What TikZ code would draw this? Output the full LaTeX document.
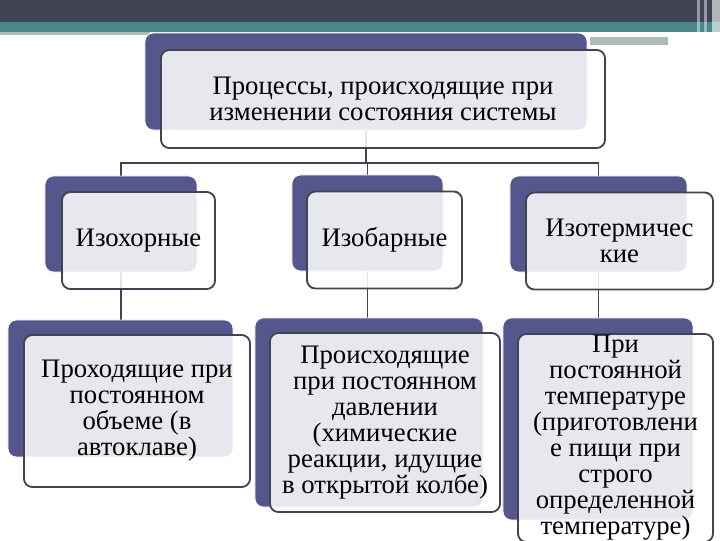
\documentclass[tikz,border=0pt]{standalone}
\usepackage{fontspec}
\setmainfont{Liberation Serif}
\usetikzlibrary{positioning,calc,backgrounds}
\definecolor{backcol}{RGB}{85,87,140}
\definecolor{edgecol}{RGB}{66,66,82}
\definecolor{barcol}{RGB}{64,68,84}
\definecolor{tealcol}{RGB}{74,136,140}
\definecolor{stripcol}{RGB}{172,188,186}

\begin{document}
\begin{tikzpicture}[x=0.025cm, y=-0.025cm, every node/.style={font=\fontsize{19}{18.5}\selectfont}, backbox/.style={draw=white, line width=0.6pt, fill=backcol, rounded corners=6pt, inner sep=0pt}, frontbox/.style={draw=edgecol, line width=1.3pt, preaction={fill=white, fill opacity=0.86}, rounded corners=6pt, align=center, inner sep=0pt}, link/.style={draw=edgecol, line width=1.3pt}]
    \clip (0,0) rectangle (720,540);
    % title bar
    \fill[barcol] (0,0) rectangle (720,22);
    \fill[tealcol] (0,22) rectangle (720,32);
    \fill[stripcol] (0,32) rectangle (150,35);
    \fill[stripcol] (590,37) rectangle (668,45);
    \fill[white, opacity=0.45] (697,0) rectangle (700,48);
    \fill[white, opacity=0.45] (704,0) rectangle (707,48);
    \fill[white, opacity=0.6] (712,0) rectangle (720,48);
    % top
    \node[backbox, minimum width=11.05cm, minimum height=2.425cm] (procbk) at (366,81.5) {};
    \node[frontbox, minimum width=11.1cm, minimum height=2.45cm] (proc) at (383,99) {Процессы, происходящие при\\изменении состояния системы};
    % second row
    \node[backbox, minimum width=3.8cm, minimum height=2.4cm] (volbk) at (121,224) {};
    \node[frontbox, minimum width=3.825cm, minimum height=2.425cm] (vol) at (138.5,240.5) {Изохорные};
    \node[backbox, minimum width=3.775cm, minimum height=2.4cm] (presbk) at (367.5,223) {};
    \node[frontbox, minimum width=3.875cm, minimum height=2.425cm] (pres) at (384.5,240) {Изобарные};
    \node[backbox, minimum width=4.425cm, minimum height=2.4cm] (tempbk) at (598.5,224) {};
    \node[frontbox, minimum width=4.675cm, minimum height=2.425cm] (temp) at (619.5,241) {Изотермичес\\кие};
    % third row
    \node[backbox, minimum width=5.625cm, minimum height=3.425cm] (voldefbk) at (120.5,388.5) {};
    \node[frontbox, minimum width=5.65cm, minimum height=3.8cm] (voldef) at (137,411) {Проходящие при\\постоянном\\объеме (в\\автоклаве)};
    \node[backbox, minimum width=5.7cm, minimum height=4.725cm] (presdefbk) at (369,412.5) {};
    \node[frontbox, minimum width=5.75cm, minimum height=4.475cm] (presdef) at (385,422.5) {Происходящие\\при постоянном\\давлении\\(химические\\реакции, идущие\\в открытой колбе)};
    \node[backbox, minimum width=4.75cm, minimum height=5.05cm] (tempdefbk) at (598,419) {};
    \node[frontbox, minimum width=4.875cm, minimum height=5.2cm] (tempdef) at (615.5,438) {При\\постоянной\\температуре\\(приготовлени\\е пищи при\\строго\\определенной\\температуре)};
    \coordinate (bus) at (366,163);
    \begin{scope}[on background layer]
      \draw[link] (procbk.south) -- (procbk.south |- bus) -| (volbk.north);
      \draw[link] (procbk.south) -- (procbk.south |- bus) -| (presbk.north);
      \draw[link] (procbk.south) -- (procbk.south |- bus) -| (tempbk.north);
      \draw[link] (volbk.south) -- (volbk.south |- voldefbk.north);
      \draw[link] (presbk.south) -- (presbk.south |- presdefbk.north);
      \draw[link] (tempbk.south) -- (tempbk.south |- tempdefbk.north);
    \end{scope}
  \end{tikzpicture}
\end{document}
